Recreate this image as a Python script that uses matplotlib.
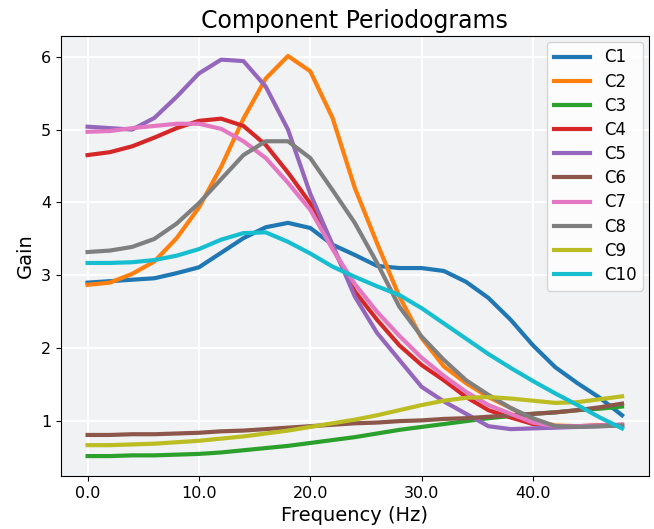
import matplotlib
matplotlib.use('Agg')
import matplotlib.pyplot as plt
import numpy as np

# frecuencias (Hz)
freqs = np.arange(0, 50, 2)

c1 = [2.90, 2.92, 2.94, 2.96, 3.03, 3.11, 3.31, 3.51, 3.66, 3.72, 3.65, 3.42, 3.28, 3.13, 3.10,
      3.10, 3.06, 2.91, 2.69, 2.39, 2.04, 1.74, 1.52, 1.32, 1.08]
c2 = [2.87, 2.90, 3.02, 3.19, 3.51, 3.93, 4.49, 5.15, 5.70, 6.01, 5.80, 5.16, 4.20, 3.44, 2.71,
      2.14, 1.75, 1.52, 1.33, 1.18, 1.01, 0.94, 0.93, 0.94, 0.94]
c3 = [0.52, 0.52, 0.53, 0.53, 0.54, 0.55, 0.57, 0.60, 0.63, 0.66, 0.70, 0.74, 0.78, 0.83, 0.88,
      0.92, 0.96, 1.00, 1.04, 1.07, 1.10, 1.12, 1.15, 1.17, 1.20]
c4 = [4.65, 4.69, 4.77, 4.89, 5.02, 5.12, 5.15, 5.05, 4.79, 4.41, 3.99, 3.39, 2.78, 2.39, 2.04,
      1.77, 1.56, 1.33, 1.15, 1.05, 0.96, 0.93, 0.93, 0.94, 0.95]
c5 = [5.04, 5.02, 5.00, 5.16, 5.45, 5.77, 5.96, 5.94, 5.59, 5.00, 4.12, 3.42, 2.71, 2.21, 1.84,
      1.47, 1.27, 1.10, 0.93, 0.89, 0.90, 0.91, 0.92, 0.93, 0.94]
c6 = [0.81, 0.81, 0.82, 0.82, 0.83, 0.84, 0.86, 0.87, 0.89, 0.91, 0.93, 0.95, 0.97, 0.98, 1.00,
      1.01, 1.03, 1.04, 1.06, 1.08, 1.10, 1.12, 1.15, 1.19, 1.24]
c7 = [4.97, 4.98, 5.02, 5.05, 5.08, 5.08, 5.01, 4.84, 4.61, 4.27, 3.90, 3.36, 2.88, 2.50, 2.17,
      1.87, 1.62, 1.40, 1.22, 1.10, 0.98, 0.93, 0.93, 0.94, 0.95]
c8 = [3.32, 3.34, 3.39, 3.50, 3.71, 3.99, 4.32, 4.65, 4.84, 4.84, 4.61, 4.17, 3.72, 3.17, 2.57,
      2.16, 1.84, 1.56, 1.36, 1.18, 1.04, 0.93, 0.92, 0.93, 0.94]
c9 = [0.67, 0.67, 0.68, 0.69, 0.71, 0.73, 0.76, 0.79, 0.83, 0.87, 0.92, 0.97, 1.02, 1.08, 1.15,
      1.22, 1.28, 1.32, 1.33, 1.31, 1.28, 1.25, 1.26, 1.30, 1.34]
c10 = [3.17, 3.17, 3.18, 3.21, 3.27, 3.36, 3.49, 3.58, 3.59, 3.46, 3.30, 3.12, 2.98, 2.85, 2.73,
       2.55, 2.34, 2.13, 1.92, 1.73, 1.55, 1.38, 1.22, 1.05, 0.90]

series = [c1, c2, c3, c4, c5, c6, c7, c8, c9, c10]
labels = ['C%d' % (i + 1) for i in range(10)]

fig, ax = plt.subplots(figsize=(6.54, 5.29), dpi=100)
fig.subplots_adjust(left=0.093, right=0.992, top=0.932, bottom=0.1)

ax.set_facecolor('#f1f2f4')
ax.grid(True, color='white', linewidth=1.5)
ax.set_axisbelow(True)

for i, s in enumerate(series):
    ax.plot(freqs, s, linewidth=3, color='C%d' % i, label=labels[i])

ax.set_xticks([0, 10, 20, 30, 40])
ax.set_xticklabels(['0.0', '10.0', '20.0', '30.0', '40.0'], fontsize=11.5)
ax.set_yticks([1, 2, 3, 4, 5, 6])
ax.set_yticklabels(['1', '2', '3', '4', '5', '6'], fontsize=11.5)

ax.set_xlabel('Frequency (Hz)', fontsize=14)
ax.set_ylabel('Gain', fontsize=14)
ax.set_title('Component Periodograms', fontsize=17)

ax.legend(loc='upper right', fontsize=12, handlelength=2.2, labelspacing=0.37,
          borderaxespad=0.35)

plt.savefig('out.png', dpi=100)
